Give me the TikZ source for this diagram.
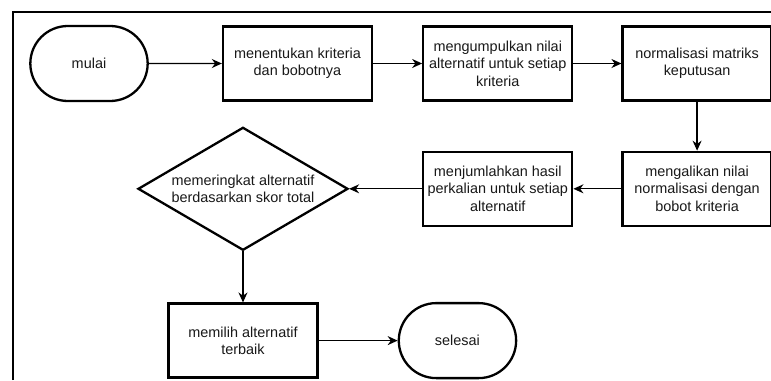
\documentclass[tikz,border=0pt]{standalone}
\usepackage{fontspec}
\setmainfont{Liberation Sans}
\usepackage{tikz}
\usetikzlibrary{positioning,shapes,arrows.meta}
\tikzstyle{pr}=[%
      rectangle, draw=black, line width=2.3bp, fill=white, align=center,
      minimum width=149bp, minimum height=74bp, inner sep=2pt
]
\tikzstyle{te}=[%
      rounded rectangle, draw=black, line width=2.3bp, fill=white, align=center,
      minimum width=124bp, minimum height=75bp
]
\tikzstyle{dc}=[%
      diamond, aspect=1.7, draw=black, line width=2.3bp, fill=white, align=center,
      minimum width=210bp, minimum height=123bp, inner sep=1pt
]
\begin{document}
\begin{tikzpicture}[x=1bp, y=-1bp,
    ->,
    >={Stealth[length=10bp,width=9bp]},
    line width=1.2bp,
    font=\fontsize{14.5}{17.5}\selectfont,
    text=black!90,
]
    \useasboundingbox (0,0) rectangle (771,380);
    \draw[-, line width=1.8bp] (13,380) -- (13,12) -- (771,12);

    \node[te]  (0) at (89,63.5)        {mulai};
    \node[pr]  (1) [right = 73bp of 0] {menentukan kriteria\\dan bobotnya};
    \node[pr]  (2) [right = 49bp of 1] {mengumpulkan nilai\\alternatif untuk setiap\\kriteria};
    \node[pr]  (3) [right = 48bp of 2] {normalisasi matriks\\keputusan};
    \node[pr]  (4) [below = 49bp of 3] {mengalikan nilai\\normalisasi dengan\\bobot kriteria};
    \node[pr]  (5) [left = 48bp of 4]  {menjumlahkan hasil\\perkalian untuk setiap\\alternatif};
    \node[dc]  (6) [left = 73bp of 5]  {memeringkat alternatif\\berdasarkan skor total};
    \node[pr]  (7) [below = 51bp of 6] {memilih alternatif\\terbaik};
    \node[te]  (8) [right = 79bp of 7] {selesai};

    \path (0) edge (1)
          (1) edge (2)
          (2) edge (3)
          (3) edge (4)
          (4) edge (5)
          (5) edge (6)
          (6) edge (7)
          (7) edge (8)
    ;
\end{tikzpicture}
\end{document}
